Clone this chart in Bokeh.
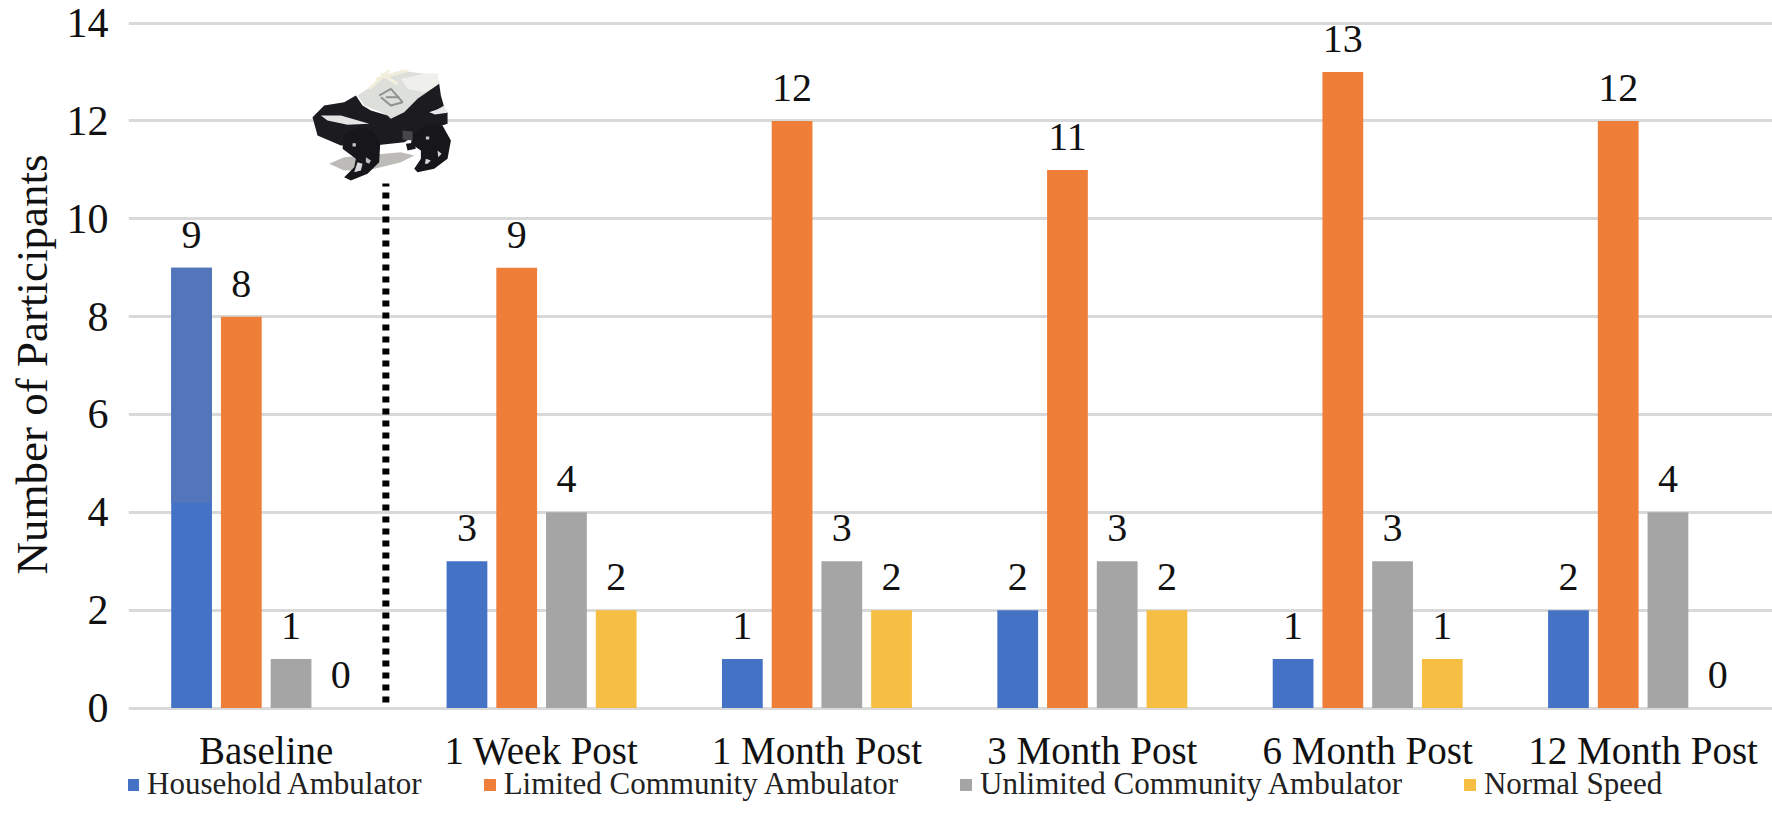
from bokeh.plotting import figure
from bokeh.models import Range1d, FixedTicker, Legend, LegendItem, ColumnDataSource, Title
from bokeh.core.properties import value
from bokeh.embed import file_html
from bokeh.resources import INLINE

categories = ["Baseline", "1 Week Post", "1 Month Post", "3 Month Post", "6 Month Post", "12 Month Post"]
household = [9, 3, 1, 2, 1, 2]
limited = [8, 9, 12, 11, 13, 12]
unlimited = [1, 4, 3, 3, 3, 4]
normal = [0, 2, 2, 2, 1, 0]
series_names = ["Household Ambulator", "Limited Community Ambulator", "Unlimited Community Ambulator", "Normal Speed"]
series_values = [household, limited, unlimited, normal]
series_colors = ["#4472C4", "#EE7E38", "#A5A5A5", "#F6BE42"]

FONT = "Liberation Serif"
W, H = 1772, 839
p = figure(width=W, height=H, output_backend="svg", toolbar_location=None,
           x_range=Range1d(0, 5.97), y_range=Range1d(-2.688, 14.299),
           min_border_left=128, min_border_right=0, min_border_top=8, min_border_bottom=0)
p.outline_line_color = None
p.background_fill_color = "white"
p.border_fill_color = "white"

p.xgrid.visible = False
p.ygrid.grid_line_color = "#D9D9D9"
p.ygrid.grid_line_width = 3
p.ygrid.ticker = FixedTicker(ticks=list(range(0, 15, 2)))

p.yaxis.ticker = FixedTicker(ticks=list(range(0, 15, 2)))
p.yaxis.axis_line_color = None
p.yaxis.major_tick_line_color = None
p.yaxis.minor_tick_line_color = None
p.yaxis.major_label_text_font = FONT
p.yaxis.major_label_text_font_size = "42px"
p.yaxis.major_label_text_color = "#111111"
p.yaxis.major_label_standoff = 14

# The axis title sits beside the 0-14 span, not beside the whole frame, so it is a left-side title
y_title = Title(text="Number of Participants", align="left", offset=265, standoff=10, vertical_align="top",
                text_font=FONT, text_font_style="normal", text_font_size="45px", text_color="#111111")
p.add_layout(y_title, "left")

centers = [i + 0.5 for i in range(len(categories))]
p.xaxis.fixed_location = 0
p.xaxis.ticker = FixedTicker(ticks=centers)
p.xaxis.major_label_overrides = {c: n for c, n in zip(centers, categories)}
p.xaxis.axis_line_color = None
p.xaxis.major_tick_line_color = None
p.xaxis.minor_tick_line_color = None
p.xaxis.major_label_text_font = FONT
p.xaxis.major_label_text_font_size = "39px"
p.xaxis.major_label_text_color = "#111111"
p.xaxis.major_label_standoff = 15

pitch = 0.1806
bar_w = 0.148
items = []
for k, (name, vals, col) in enumerate(zip(series_names, series_values, series_colors)):
    xs = [c + (k - 1.5) * pitch for c in centers]
    src = ColumnDataSource(dict(x=xs, top=vals, label=[str(v) for v in vals]))
    r = p.vbar(x="x", top="top", width=bar_w, source=src, fill_color=col, line_color=None)
    items.append(LegendItem(label=name, renderers=[r]))
    p.text(x="x", y="top", text="label", source=src, text_align="center", text_baseline="bottom",
           y_offset=-20, text_font=value(FONT), text_font_size="40px", text_color="#111111")

# Lighter upper part of the first bar, as in the reference picture
p.vbar(x=[centers[0] - 1.5 * pitch], bottom=[4.2], top=[household[0]], width=bar_w,
       fill_color="#5276B9", line_color=None)

# Dotted separator between baseline and follow-ups
p.line(x=[0.9346, 0.9346], y=[0.11, 10.72], line_color="black", line_width=7, line_dash="6 6")

# Shoe illustration (device on a sneaker), traced as shapes in a small local sketch space
def sx(u):
    return (300 + u / 3 - 127.7) / 275.3

def sy(v):
    return (707.5 - (55 + v / 3)) / 48.92

def shape(pts, col):
    p.patch([sx(a) for a, _ in pts], [sy(b) for _, b in pts], fill_color=col, line_color=None)

def stroke(pts, col, w):
    p.line([sx(a) for a, _ in pts], [sy(b) for _, b in pts], line_color=col, line_width=w)

shape([(85, 325), (130, 305), (300, 290), (340, 300), (300, 320), (200, 345), (130, 345)], "#BDBBB8")
shape([(170, 120), (215, 90), (250, 60), (300, 45), (370, 55), (410, 55), (415, 90), (400, 130),
       (350, 160), (280, 195), (240, 170), (190, 150)], "#DDDFDB")
shape([(300, 70), (370, 55), (410, 55), (412, 90), (370, 110), (320, 100)], "#EFEFEC")
stroke([(235, 120), (270, 100), (305, 140), (270, 150), (240, 125)], "#8E9290", 2)
stroke([(255, 125), (295, 125)], "#8E9290", 2)
stroke([(205, 100), (265, 45)], "#F3EFDD", 3)
stroke([(225, 70), (320, 45)], "#F3EFDD", 3)
stroke([(240, 55), (290, 85)], "#F3EFDD", 3)
shape([(35, 185), (70, 150), (130, 140), (165, 120), (185, 150), (210, 165), (260, 180), (270, 190),
       (310, 170), (350, 130), (415, 85), (420, 120), (430, 155), (385, 170), (400, 175), (440, 170),
       (440, 205), (360, 230), (310, 260), (220, 270), (120, 270), (50, 240)], "#1B1B20")
shape([(60, 180), (120, 180), (205, 205), (140, 208), (80, 195)], "#E4E4E4")
shape([(392, 172), (430, 150), (440, 172), (402, 177)], "#E8E8E8")
shape([(130, 240), (170, 215), (215, 225), (238, 265), (235, 320), (200, 355), (150, 375),
       (130, 365), (160, 335), (165, 310), (125, 280)], "#17171B")
shape([(335, 240), (380, 205), (425, 210), (450, 255), (440, 310), (400, 340), (350, 350),
       (340, 340), (360, 310), (360, 285), (330, 265)], "#17171B")
shape([(315, 265), (340, 262), (345, 280), (320, 285)], "#17171B")
shape([(305, 225), (335, 228), (335, 255), (305, 252)], "#45454A")
shape([(170, 320), (185, 325), (180, 345), (160, 350)], "#D8D8D8")
shape([(195, 305), (210, 315), (205, 325), (195, 320)], "#BEBEBE")
shape([(375, 310), (390, 315), (380, 325), (372, 325)], "#D8D8D8")
shape([(410, 285), (422, 295), (412, 305)], "#D8D8D8")
shape([(155, 263), (165, 263), (165, 273), (155, 273)], "#C8C8C8")
shape([(375, 243), (385, 243), (385, 252), (375, 252)], "#C8C8C8")

legend = Legend(items=items, orientation="horizontal", location=(-3, 37),
                label_text_font=FONT, label_text_font_size="31px", label_text_color="#222222",
                glyph_width=15, glyph_height=15, spacing=60, label_standoff=7,
                background_fill_alpha=0, border_line_alpha=0, margin=0, padding=0)
p.add_layout(legend, "center")

open("out.html", "w").write(file_html(p, INLINE))
